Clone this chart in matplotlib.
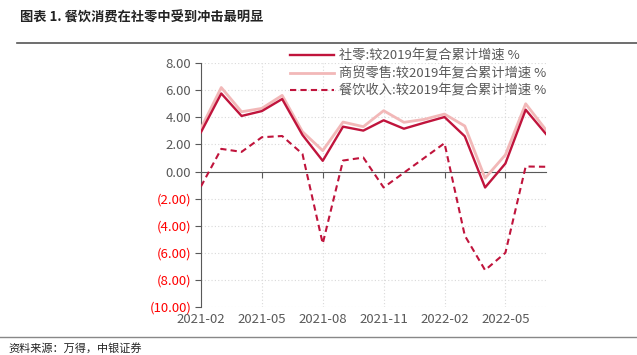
import matplotlib
matplotlib.use("Agg")
import matplotlib.pyplot as plt
from matplotlib.lines import Line2D
from matplotlib.ticker import FuncFormatter

plt.rcParams['font.family'] = ['Noto Sans CJK SC', 'DejaVu Sans']

# Data
months = ["2021-02", "2021-03", "2021-04", "2021-05", "2021-06", "2021-07",
          "2021-08", "2021-09", "2021-10", "2021-11", "2021-12", "2022-01",
          "2022-02", "2022-03", "2022-04", "2022-05", "2022-06", "2022-07"]
retail_total = [2.90, 5.76, 4.10, 4.46, 5.35, 2.70, 0.79, 3.31, 3.02, 3.78,
                3.16, 3.60, 4.02, 2.60, -1.18, 0.59, 4.56, 2.77]
commerce_retail = [3.19, 6.20, 4.41, 4.66, 5.62, 2.94, 1.54, 3.65, 3.31, 4.49,
                   3.63, 3.85, 4.24, 3.36, -0.49, 1.23, 5.00, 3.07]
catering = [-1.10, 1.67, 1.45, 2.53, 2.62, 1.30, -5.32, 0.81, 1.03, -1.18,
            -0.09, 1.00, 2.09, -4.73, -7.28, -6.00, 0.37, 0.35]
labels = ["社零:较2019年复合累计增速 %",
          "商贸零售:较2019年复合累计增速 %",
          "餐饮收入:较2019年复合累计增速 %"]

dark = "#C0143C"
pink = "#F2B8B8"
grey = "#595959"

fig = plt.figure(figsize=(6.37, 3.55), dpi=100)
ax = fig.add_axes([0.3155, 0.1352, 0.5416, 0.687])

x = list(range(len(months)))
ax.plot(x, commerce_retail, color=pink, lw=2.0, label=labels[1], zorder=3)
ax.plot(x, retail_total, color=dark, lw=1.7, label=labels[0], zorder=4)
ax.plot(x, catering, color=dark, lw=1.5, ls=(0, (3, 2)), label=labels[2], zorder=4)

ax.set_xlim(0, len(months) - 1)
ax.set_ylim(-10, 8)
yt = list(range(-10, 9, 2))
ax.set_yticks(yt)
ax.yaxis.set_major_formatter(FuncFormatter(
    lambda v, p: f"({abs(v):.2f})" if v < 0 else f"{v:.2f}"))

tick_pos = x[::3]
ax.set_xticks(tick_pos)
ax.set_xticklabels([])
ax.grid(True, color="#D9D9D9", ls=(0, (1, 2)), lw=0.8)
ax.set_axisbelow(True)

for s in ["top", "right"]:
    ax.spines[s].set_visible(False)
ax.spines["bottom"].set_position(("data", 0))
ax.spines["bottom"].set_color("#595959")
ax.spines["left"].set_color("#595959")
ax.tick_params(axis="x", direction="out", length=4, color="#595959")
ax.tick_params(axis="y", direction="out", length=4, color="#595959",
               labelsize=9.5, labelcolor=grey, pad=3)

for v, t in zip(yt, ax.get_yticklabels()):
    if v < 0:
        t.set_color("#FF0000")

sec = ax.secondary_xaxis(0)
sec.set_xticks(tick_pos)
sec.set_xticklabels([months[i] for i in tick_pos])
sec.tick_params(length=0, labelsize=9.5, labelcolor=grey, pad=4)
sec.spines["bottom"].set_visible(False)

h, l = ax.get_legend_handles_labels()
order = [1, 0, 2]
ax.legend([h[i] for i in order], [l[i] for i in order], loc="upper left",
          bbox_to_anchor=(0.258, 1.054), frameon=False, fontsize=9.5,
          labelcolor=grey, handlelength=3.3, handletextpad=0.4,
          labelspacing=0.33, borderaxespad=0, borderpad=0)

fig.text(0.031, 0.95, "图表 1. 餐饮消费在社零中受到冲击最明显", fontsize=9.5,
         fontweight="bold", color="#222222", va="center")
fig.add_artist(Line2D([0.027, 1.0], [0.879, 0.879], color="#555555", lw=1.2))
fig.add_artist(Line2D([0.0, 1.0], [0.05, 0.05], color="#888888", lw=1.0))
fig.text(0.013, 0.02, "资料来源：万得，中银证券", fontsize=8,
         style="italic", color="#222222", va="center")

fig.savefig("out.png", dpi=100)
